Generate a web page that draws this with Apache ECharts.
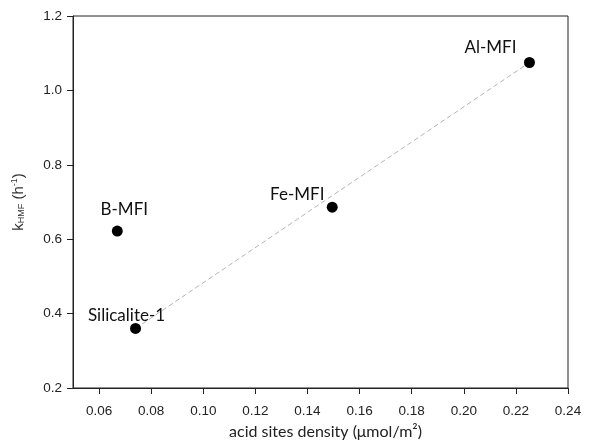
<!DOCTYPE html>
<html>
<head>
<meta charset="utf-8">
<script src="https://cdn.jsdelivr.net/npm/echarts@6/dist/echarts.min.js"></script>
<style>
  html, body { margin: 0; padding: 0; background: #fff; }
  #chart { width: 607px; height: 440px; }
</style>
</head>
<body>
<div id="chart"></div>
<script>
// Catalyst samples: acid site density vs. HMF rate constant
const samples = ['B-MFI', 'Silicalite-1', 'Fe-MFI', 'Al-MFI'];
const acidDensity = [0.067, 0.074, 0.1495, 0.2252];
const kHMF = [0.622, 0.360, 0.686, 1.075];

// Linear trend through the MFI series (end points)
const trendX = [0.074, 0.2252];
const trendY = [0.360, 1.075];

// Axis ticks
const xTicks = [0.06, 0.08, 0.10, 0.12, 0.14, 0.16, 0.18, 0.20, 0.22, 0.24];
const yTicks = [0.2, 0.4, 0.6, 0.8, 1.0, 1.2];

// Label placement around each marker, in pixels
const labelShift = {
  'B-MFI': [7, -22],
  'Silicalite-1': [-9, -13],
  'Fe-MFI': [-35, -13],
  'Al-MFI': [-39, -15]
};

const chart = echarts.init(document.getElementById('chart'), null, { renderer: 'canvas' });

const axisText = { fontFamily: 'Liberation Sans', fontSize: 13.5, color: '#222' };

chart.setOption({
  animation: false,
  backgroundColor: '#fff',
  grid: {
    left: 73, right: 39, top: 16, bottom: 52,
    outerBoundsMode: 'none',
    containLabel: false,
    show: true, borderColor: '#222', borderWidth: 1, backgroundColor: 'transparent'
  },
  xAxis: {
    type: 'value',
    min: 0.05, max: 0.24,
    splitLine: { show: false },
    axisLine: { lineStyle: { color: '#222', width: 1 } },
    axisTick: { show: true, length: 6, customValues: xTicks, lineStyle: { color: '#222' } },
    axisLabel: Object.assign({
      customValues: xTicks, margin: 16,
      formatter: v => v.toFixed(2)
    }, axisText),
    name: 'acid sites density (μmol/m²)',
    nameLocation: 'middle',
    nameGap: 36,
    nameTextStyle: { fontFamily: 'Lato', fontSize: 16, color: '#222', padding: [0, 0, 0, 10] }
  },
  yAxis: {
    type: 'value',
    min: 0.2, max: 1.2, interval: 0.2,
    splitLine: { show: false },
    axisLine: { lineStyle: { color: '#222', width: 1 } },
    axisTick: { show: true, length: 6, customValues: yTicks, lineStyle: { color: '#222' } },
    axisLabel: Object.assign({
      customValues: yTicks, margin: 11,
      formatter: v => v.toFixed(1)
    }, axisText),
    name: '{k|k}{sub|HMF}{k| (h}{sup|-1}{k|)}',
    nameLocation: 'middle',
    nameGap: 46,
    nameTextStyle: {
      rich: {
        k: { fontFamily: 'Liberation Sans', fontSize: 15, color: '#333' },
        sub: { fontFamily: 'Liberation Sans', fontSize: 9, color: '#333', padding: [7, 0, 0, 0] },
        sup: { fontFamily: 'Liberation Sans', fontSize: 9, color: '#333', padding: [0, 0, 8, 0] }
      }
    }
  },
  series: [
    {
      type: 'line',
      data: trendX.map((x, i) => [x, trendY[i]]),
      symbol: 'none',
      silent: true,
      z: 1,
      lineStyle: { color: '#b5b5b5', width: 1, type: [5, 3] }
    },
    {
      type: 'scatter',
      z: 3,
      symbol: 'circle',
      symbolSize: 11,
      itemStyle: { color: '#000', opacity: 1 },
      data: samples.map((name, i) => ({
        name: name,
        value: [acidDensity[i], kHMF[i]],
        label: {
          show: true,
          position: 'inside',
          offset: labelShift[name],
          formatter: '{b}',
          fontFamily: 'Lato',
          fontSize: 17,
          color: '#111',
          align: 'center',
          verticalAlign: 'middle'
        }
      }))
    }
  ]
});
</script>
</body>
</html>
